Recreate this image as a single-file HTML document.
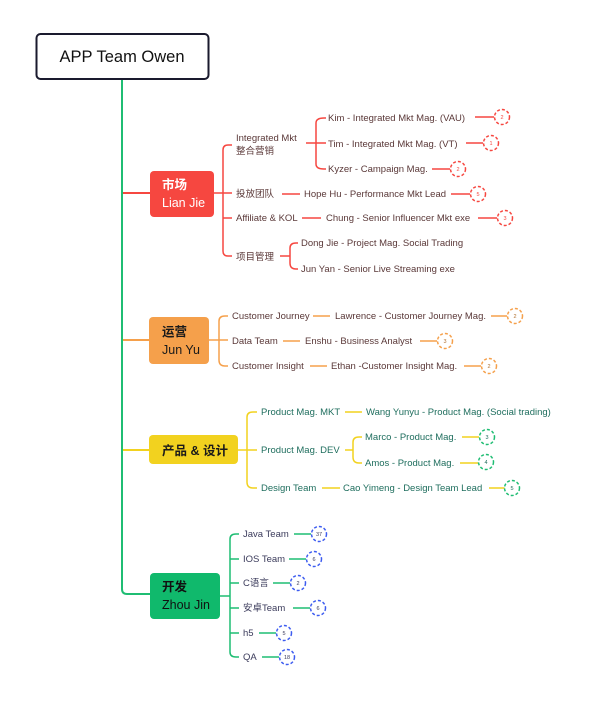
<!DOCTYPE html>
<html><head><meta charset="utf-8"><style>
html,body{margin:0;padding:0;background:#fff;}
svg{display:block;}
text{font-family:"Liberation Sans","Noto Sans CJK SC",sans-serif;}
.s{font-size:9.5px;}
.b{font-size:5.5px;text-anchor:middle;}
</style></head><body>
<svg width="602" height="704" viewBox="0 0 602 704" xmlns="http://www.w3.org/2000/svg">
<rect x="36.5" y="34" width="172" height="45" rx="4" fill="#fff" stroke="#1a1a2e" stroke-width="2"/>
<text x="122" y="62" font-size="16.5" text-anchor="middle" fill="#111">APP Team Owen</text>
<path d="M122 80 V589 Q122 594 127 594 H150" fill="none" stroke="#1fbd73" stroke-width="2"/>
<path d="M123 193 H150" stroke="#f64740" stroke-width="2"/>
<path d="M123 340 H150" stroke="#f5a04b" stroke-width="2"/>
<path d="M123 450 H150" stroke="#f2d21f" stroke-width="2"/>

<g stroke="#f64740" stroke-width="1.5" fill="none">
<path d="M214 193 H223"/>
<path d="M228 145 Q223 145 223 150 V251 Q223 256 228 256 H232"/>
<path d="M228 145 H232 M223 193 H232 M223 218 H232"/>
<path d="M306 143 H316"/>
<path d="M324 118 Q316 118 316 123 V164 Q316 169 324 169 H326 M316 143 H326 M324 118 H326"/>
<path d="M475 117 H494 M466 143 H483 M432 169 H450"/>
<path d="M282 194 H300 M451 194 H470"/>
<path d="M302 218 H321 M478 218 H497"/>
<path d="M280 256 H290"/>
<path d="M296 243 Q290 243 290 248 V263 Q290 269 296 269 H298 M296 243 H298"/>
</g>
<rect x="150" y="171" width="64" height="46" rx="4" fill="#f64740"/>
<text x="162" y="189" font-size="12.5" fill="#fff" font-weight="bold">市场</text>
<text x="162" y="207" font-size="12.5" fill="#fff">Lian Jie</text>
<g fill="#5a3838">
<text x="236" y="141" class="s">Integrated Mkt</text>
<text x="236" y="154" class="s">整合营销</text>
<text x="236" y="197" class="s">投放团队</text>
<text x="236" y="221" class="s">Affiliate &amp; KOL</text>
<text x="236" y="260" class="s">项目管理</text>
<text x="328" y="121" class="s">Kim - Integrated Mkt Mag. (VAU)</text>
<text x="328" y="147" class="s">Tim - Integrated Mkt Mag. (VT)</text>
<text x="328" y="172" class="s">Kyzer - Campaign Mag.</text>
<text x="304" y="197" class="s">Hope Hu - Performance Mkt Lead</text>
<text x="326" y="221" class="s">Chung - Senior Influencer Mkt exe</text>
<text x="301" y="246" class="s">Dong Jie - Project Mag. Social Trading</text>
<text x="301" y="272" class="s">Jun Yan - Senior Live Streaming exe</text>
</g>
<g fill="#fff" stroke="#f64740" stroke-width="1.5" stroke-dasharray="3 2">
<circle cx="502" cy="117" r="7.5"/><circle cx="491" cy="143" r="7.5"/><circle cx="458" cy="169" r="7.5"/>
<circle cx="478" cy="194" r="7.5"/><circle cx="505" cy="218" r="7.5"/>
</g>
<g fill="#f64740">
<text x="502" y="119" class="b">2</text><text x="491" y="145" class="b">1</text><text x="458" y="171" class="b">2</text>
<text x="478" y="196" class="b">5</text><text x="505" y="220" class="b">3</text>
</g>

<g stroke="#f5a04b" stroke-width="1.5" fill="none">
<path d="M209 340 H219"/>
<path d="M225 316 Q219 316 219 321 V360 Q219 366 225 366 H228 M219 340 H228 M225 316 H228"/>
<path d="M313 316 H330 M491 316 H507"/>
<path d="M283 341 H300 M420 341 H437"/>
<path d="M310 366 H327 M464 366 H481"/>
</g>
<rect x="149" y="317" width="60" height="47" rx="4" fill="#f5a04b"/>
<text x="162" y="336" font-size="12.5" fill="#1a1a1a" font-weight="bold">运营</text>
<text x="162" y="354" font-size="12.5" fill="#1a1a1a">Jun Yu</text>
<g fill="#5a3838">
<text x="232" y="319" class="s">Customer Journey</text>
<text x="335" y="319" class="s">Lawrence - Customer Journey Mag.</text>
<text x="232" y="344" class="s">Data Team</text>
<text x="305" y="344" class="s">Enshu - Business Analyst</text>
<text x="232" y="369" class="s">Customer Insight</text>
<text x="331" y="369" class="s">Ethan -Customer Insight Mag.</text>
</g>
<g fill="#fff" stroke="#f5a04b" stroke-width="1.5" stroke-dasharray="3 2">
<circle cx="515" cy="316" r="7.5"/><circle cx="445" cy="341" r="7.5"/><circle cx="489" cy="366" r="7.5"/>
</g>
<g fill="#b07030">
<text x="515" y="318" class="b">2</text><text x="445" y="343" class="b">3</text><text x="489" y="368" class="b">2</text>
</g>

<g stroke="#f2d21f" stroke-width="1.5" fill="none">
<path d="M238 450 H247"/>
<path d="M253 412 Q247 412 247 417 V482 Q247 488 253 488 H257 M247 450 H257 M253 412 H257"/>
<path d="M345 412 H362"/>
<path d="M345 450 H353"/>
<path d="M359 437 Q353 437 353 442 V457 Q353 463 359 463 H362 M359 437 H362"/>
<path d="M462 437 H479 M460 463 H478"/>
<path d="M322 488 H340 M489 488 H505"/>
</g>
<rect x="149" y="435" width="89" height="29" rx="4" fill="#f2d21f"/>
<text x="162" y="455" font-size="12.5" fill="#1a1a1a" font-weight="bold">产品 &amp; 设计</text>
<g fill="#1f6e5e">
<text x="261" y="415" class="s">Product Mag. MKT</text>
<text x="366" y="415" class="s">Wang Yunyu - Product Mag. (Social trading)</text>
<text x="261" y="453" class="s">Product Mag. DEV</text>
<text x="365" y="440" class="s">Marco - Product Mag.</text>
<text x="365" y="466" class="s">Amos - Product Mag.</text>
<text x="261" y="491" class="s">Design Team</text>
<text x="343" y="491" class="s">Cao Yimeng - Design Team Lead</text>
</g>
<g fill="#fff" stroke="#1fbd73" stroke-width="1.5" stroke-dasharray="3 2">
<circle cx="487" cy="437" r="7.5"/><circle cx="486" cy="462" r="7.5"/><circle cx="512" cy="488" r="7.5"/>
</g>
<g fill="#1f6e5e">
<text x="487" y="439" class="b">3</text><text x="486" y="464" class="b">4</text><text x="512" y="490" class="b">5</text>
</g>

<g stroke="#1fbd73" stroke-width="1.5" fill="none">
<path d="M220 596 H230"/>
<path d="M236 534 Q230 534 230 539 V652 Q230 657 236 657 H239 M236 534 H239"/>
<path d="M230 559 H239 M230 583 H239 M230 608 H239 M230 633 H239"/>
<path d="M294 534 H311 M289 559 H306 M273 583 H290 M293 608 H310 M259 633 H276 M262 657 H279"/>
</g>
<rect x="150" y="573" width="70" height="46" rx="4" fill="#10b96c"/>
<text x="162" y="591" font-size="12.5" fill="#111" font-weight="bold">开发</text>
<text x="162" y="609" font-size="12.5" fill="#111">Zhou Jin</text>
<g fill="#3b3b5b">
<text x="243" y="537" class="s">Java Team</text>
<text x="243" y="562" class="s">IOS Team</text>
<text x="243" y="586" class="s">C语言</text>
<text x="243" y="611" class="s">安卓Team</text>
<text x="243" y="636" class="s">h5</text>
<text x="243" y="660" class="s">QA</text>
</g>
<g fill="#fff" stroke="#3d5cf0" stroke-width="1.5" stroke-dasharray="3 2">
<circle cx="319" cy="534" r="7.5"/><circle cx="314" cy="559" r="7.5"/><circle cx="298" cy="583" r="7.5"/>
<circle cx="318" cy="608" r="7.5"/><circle cx="284" cy="633" r="7.5"/><circle cx="287" cy="657" r="7.5"/>
</g>
<g fill="#3b3b5b">
<text x="319" y="536" class="b">37</text><text x="314" y="561" class="b">6</text><text x="298" y="585" class="b">2</text>
<text x="318" y="610" class="b">6</text><text x="284" y="635" class="b">5</text><text x="287" y="659" class="b">18</text>
</g>
</svg>
</body></html>
